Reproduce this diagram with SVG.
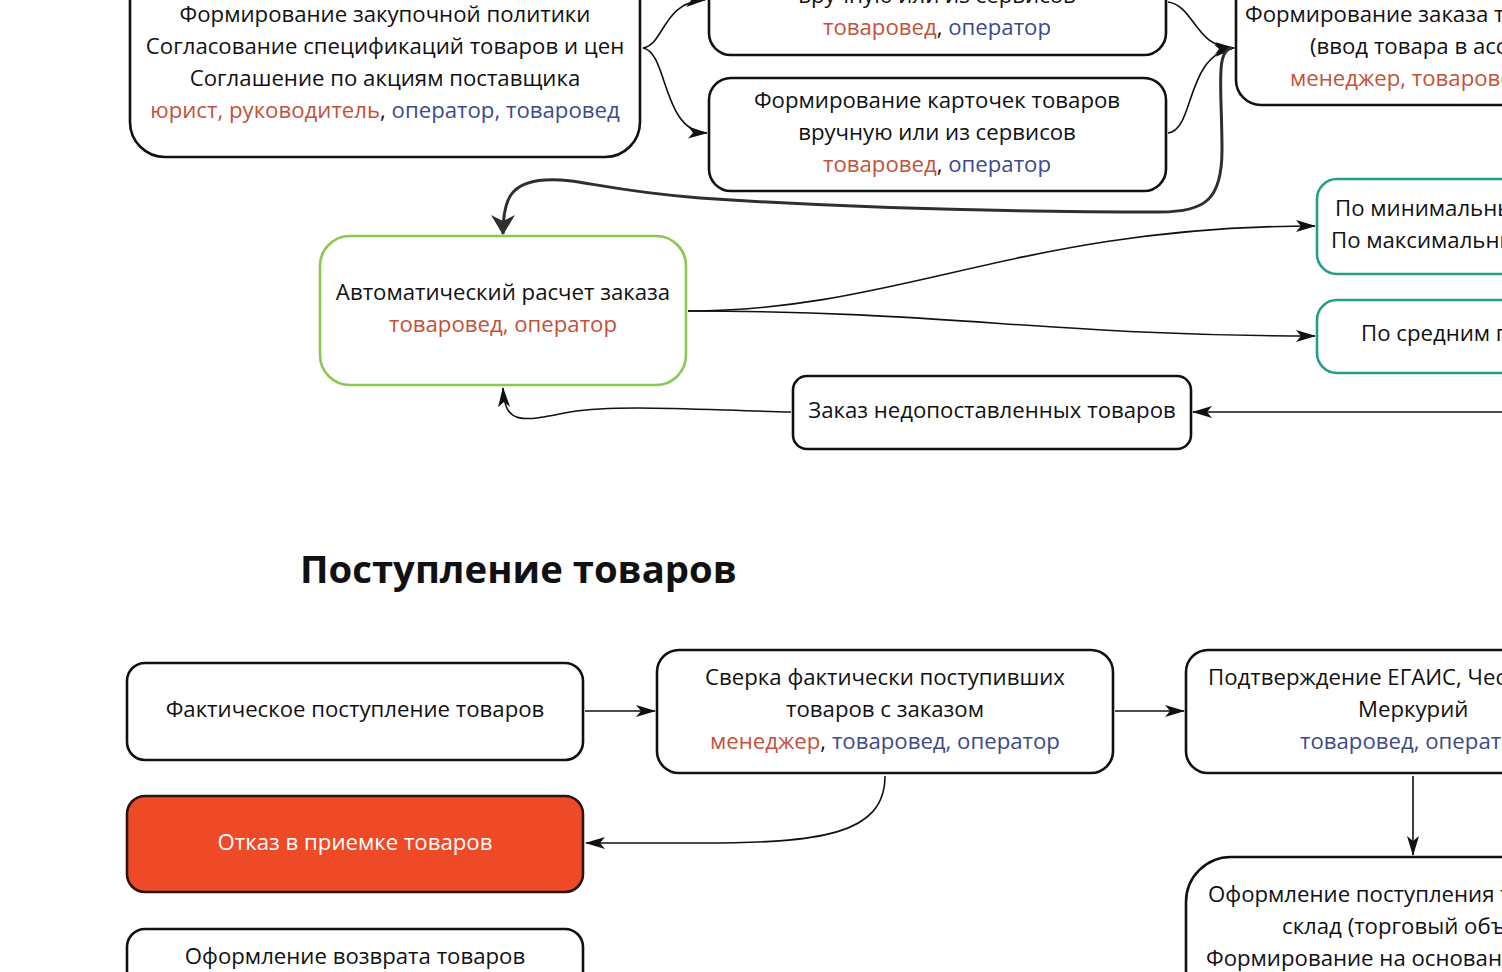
<svg xmlns="http://www.w3.org/2000/svg" width="1502" height="972" viewBox="0 0 1502 972">
<defs>
<style>
text{font-family:"Open Sans","Noto Sans","Liberation Sans",sans-serif;font-size:22.2px;fill:#111}
.m{text-anchor:middle}
.r{fill:#c4513a}
.b{fill:#3c4a8a}
.w{fill:#fff}
.box{fill:#fff;stroke:#111;stroke-width:2.6}
.green{fill:#fff;stroke:#8cc653;stroke-width:2.6}
.teal{fill:#fff;stroke:#249c87;stroke-width:2.6}
.red{fill:#ef4a28;stroke:#2a1410;stroke-width:2.6}
.c{fill:none;stroke:#111;stroke-width:1.6}
.ct{fill:none;stroke:#2f2f2f;stroke-width:3}
.h{font-weight:700;font-size:38.3px}
</style>
<marker id="a" viewBox="0 0 20 12" markerWidth="20" markerHeight="12" refX="19" refY="6" orient="auto" markerUnits="userSpaceOnUse">
<path d="M0,0 L20,6 L0,12 L5,6 z" fill="#111"/>
</marker>
<marker id="at" viewBox="0 0 20 24" markerWidth="20" markerHeight="24" refX="19" refY="12" orient="auto" markerUnits="userSpaceOnUse">
<path d="M0,0 L20,12 L0,24 L6,12 z" fill="#2f2f2f"/>
</marker>
</defs>

<g id="connectors">
<path class="c" d="M643,48 C665,44 662,2 705,0" marker-end="url(#a)"/>
<path class="c" d="M643,48 C668,52 662,132 707,133" marker-end="url(#a)"/>
<path class="c" d="M1168,2 C1195,6 1195,48 1234,48" marker-end="url(#a)"/>
<path class="c" d="M1168,133 C1195,130 1185,55 1234,48" marker-end="url(#a)"/>
<path class="ct" d="M1232,48 C1215,50 1222,90 1222,150 C1222,200 1205,212 1160,212 C1000,212 850,208 700,198 C600,190 580,178 545,180 C510,182 503,200 503,234" marker-end="url(#at)"/>
<path class="c" d="M688,311 C900,311 1020,226 1315,226" marker-end="url(#a)"/>
<path class="c" d="M688,311 C950,311 1050,336 1315,336" marker-end="url(#a)"/>
<path class="c" d="M1502,412 L1193,412" marker-end="url(#a)"/>
<path class="c" d="M791,412 C700,410 620,404 570,412 C520,422 505,425 503,388" marker-end="url(#a)"/>
<path class="c" d="M585,711 L655,711" marker-end="url(#a)"/>
<path class="c" d="M1115,711 L1184,711" marker-end="url(#a)"/>
<path class="c" d="M1413,776 L1413,855" marker-end="url(#a)"/>
<path class="c" d="M885,776 C885,835 820,843 700,843 L586,843" marker-end="url(#a)"/>
</g>

<g id="n-policy">
<rect class="box" x="130" y="-60" width="510" height="217" rx="35"/>
<text class="m" x="385" y="22">Формирование закупочной политики</text>
<text class="m" x="385" y="54">Согласование спецификаций товаров и цен</text>
<text class="m" x="385" y="86">Соглашение по акциям поставщика</text>
<text class="m" x="385" y="118"><tspan class="r">юрист, руководитель</tspan>, <tspan class="b">оператор, товаровед</tspan></text>
</g>

<g id="n-cards1">
<rect class="box" x="709" y="-80" width="457" height="135" rx="22"/>
<text class="m" x="937" y="3">вручную или из сервисов</text>
<text class="m" x="937" y="35"><tspan class="r">товаровед</tspan>, <tspan class="b">оператор</tspan></text>
</g>

<g id="n-cards2">
<rect class="box" x="709" y="78" width="457" height="113" rx="22"/>
<text class="m" x="937" y="108">Формирование карточек товаров</text>
<text class="m" x="937" y="140">вручную или из сервисов</text>
<text class="m" x="937" y="172"><tspan class="r">товаровед</tspan>, <tspan class="b">оператор</tspan></text>
</g>

<g id="n-order">
<rect class="box" x="1236" y="-60" width="400" height="165" rx="25"/>
<text x="1245" y="22">Формирование заказа товаров</text>
<text x="1310" y="54">(ввод товара в ассортимент)</text>
<text class="r" x="1290" y="86">менеджер, товаровед</text>
</g>

<g id="n-minmax">
<rect class="teal" x="1317" y="179" width="300" height="95" rx="20"/>
<text x="1335" y="216">По минимальным остаткам</text>
<text x="1331" y="248">По максимальным остаткам</text>
</g>

<g id="n-avg">
<rect class="teal" x="1317" y="300" width="300" height="73" rx="20"/>
<text x="1361" y="341">По средним продажам</text>
</g>

<g id="n-auto">
<rect class="green" x="320" y="236" width="366" height="149" rx="30"/>
<text class="m" x="503" y="300">Автоматический расчет заказа</text>
<text class="m r" x="503" y="332">товаровед, оператор</text>
</g>

<g id="n-short">
<rect class="box" x="793" y="376" width="398" height="73" rx="14"/>
<text class="m" x="992" y="418">Заказ недопоставленных товаров</text>
</g>

<text class="h" x="300" y="583">Поступление товаров</text>

<g id="n-fact">
<rect class="box" x="127" y="663" width="456" height="97" rx="18"/>
<text class="m" x="355" y="717">Фактическое поступление товаров</text>
</g>

<g id="n-check">
<rect class="box" x="657" y="650" width="456" height="123" rx="22"/>
<text class="m" x="885" y="685">Сверка фактически поступивших</text>
<text class="m" x="885" y="717">товаров с заказом</text>
<text class="m" x="885" y="749"><tspan class="r">менеджер</tspan>, <tspan class="b">товаровед, оператор</tspan></text>
</g>

<g id="n-egais">
<rect class="box" x="1186" y="650" width="460" height="123" rx="22"/>
<text x="1208" y="685">Подтверждение ЕГАИС, Честный знак,</text>
<text x="1358" y="717">Меркурий</text>
<text class="b" x="1300" y="749">товаровед, оператор</text>
</g>

<g id="n-reject">
<rect class="red" x="127" y="796" width="456" height="96" rx="18"/>
<text class="m w" x="355" y="850">Отказ в приемке товаров</text>
</g>

<g id="n-return">
<rect class="box" x="127" y="929" width="456" height="100" rx="18"/>
<text class="m" x="355" y="964">Оформление возврата товаров</text>
</g>

<g id="n-receipt">
<rect class="box" x="1186" y="857" width="460" height="200" rx="45"/>
<text x="1208" y="902">Оформление поступления товаров на</text>
<text x="1282" y="934">склад (торговый объект)</text>
<text x="1206" y="966">Формирование на основании заказа</text>
</g>
</svg>
